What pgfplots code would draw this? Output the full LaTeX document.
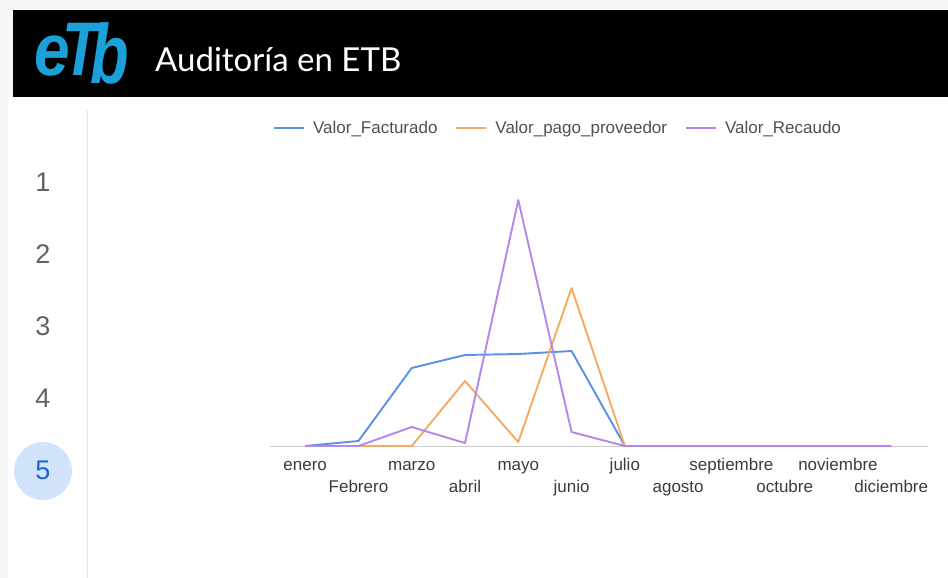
\documentclass[border=0pt]{standalone}
\usepackage{pgfplots}
\pgfplotsset{compat=1.18}
\usepackage{fontspec}
\setmainfont{Liberation Sans}
\newfontfamily\titlefont{Lato}
\definecolor{cBlue}{RGB}{88,145,230}
\definecolor{cOrange}{RGB}{245,170,100}
\definecolor{cPurple}{RGB}{180,135,235}
\definecolor{bgstrip}{RGB}{246,247,249}
\definecolor{sideline}{RGB}{226,228,230}
\definecolor{axisgrey}{RGB}{204,204,204}
\definecolor{labelgrey}{RGB}{60,60,60}
\definecolor{leggrey}{RGB}{80,80,80}
\definecolor{numgrey}{RGB}{95,99,104}
\definecolor{logoblue}{RGB}{27,160,218}
\definecolor{circblue}{RGB}{210,227,252}
\definecolor{numblue}{RGB}{25,103,210}
\begin{document}
\begin{tikzpicture}[x=1pt,y=1pt]
\useasboundingbox (0,0) rectangle (948,-578);
\fill[white] (0,0) rectangle (948,-578);
\fill[bgstrip] (0,0) rectangle (948,-10);
\fill[bgstrip] (0,0) rectangle (13,-97);
\fill[bgstrip] (0,-97) rectangle (8,-578);
\fill[black] (13,-10) rectangle (948,-97);
% logo
\node[anchor=base west, inner sep=0, text=logoblue] at (34,-76)
  {\scalebox{0.78}[0.9]{\fontsize{82}{82}\selectfont\bfseries\itshape e}};
\node[anchor=base west, inner sep=0, text=logoblue] at (62,-76)
  {\scalebox{0.8}[1]{\fontsize{76}{76}\selectfont\bfseries\itshape T}};
\node[anchor=base west, inner sep=0, text=logoblue] at (90,-84)
  {\scalebox{0.75}[1]{\fontsize{84}{84}\selectfont\bfseries\itshape b}};
% title
\node[anchor=base west, inner sep=0, text=white, font=\titlefont\fontsize{33}{33}\selectfont] at (155,-72) {Auditoría en ETB};
% sidebar
\draw[sideline, line width=1pt] (87,-110) -- (87,-578);
\fill[circblue] (43,-471) circle (29);
\foreach \n/\yy in {1/182,2/254,3/326,4/398}{
  \node[text=numgrey, inner sep=0, font=\fontsize{27}{27}\selectfont] at (43,-\yy) {\n};
}
\node[text=numblue, inner sep=0, font=\fontsize{27}{27}\selectfont] at (43,-470) {5};
\begin{axis}[
  at={(270pt,-446pt)}, anchor=south west,
  scale only axis, width=658pt, height=250pt,
  xmin=-0.66, xmax=11.69, ymin=0, ymax=250,
  axis x line=bottom, axis y line=none,
  x axis line style={draw=axisgrey, line width=1pt, -},
  major tick length=0pt,
  xtick={0,2,4,6,8,10},
  xticklabels={enero,marzo,mayo,julio,septiembre,noviembre},
  extra x ticks={1,3,5,7,9,11},
  extra x tick labels={Febrero,abril,junio,agosto,octubre,diciembre},
  xticklabel style={anchor=base, yshift=-24pt, text=labelgrey, font=\fontsize{17}{20}\selectfont, inner sep=0pt},
  extra x tick style={xticklabel style={yshift=-22.5pt}},
  clip=false,
  legend columns=3,
  legend image code/.code={\draw[#1] (0pt,0pt) -- (30pt,0pt);},
  legend style={at={(0.0,1.272)}, anchor=west, draw=none, fill=none,
    font=\fontsize{17}{20}\selectfont, text=leggrey,
    nodes={inner sep=0pt},
    /tikz/every odd column/.append style={column sep=8pt},
    /tikz/every even column/.append style={column sep=18pt}},
]
\addplot[cBlue, line width=1.9pt, line join=round] coordinates {
 (0,0) (1,5) (2,78) (3,91) (4,92) (5,95) (6,0) (7,0) (8,0) (9,0) (10,0) (11,0)};
\addlegendentry{Valor\_Facturado}
\addplot[cOrange, line width=1.9pt, line join=round] coordinates {
 (0,0) (1,0) (2,0) (3,65) (4,4) (5,158) (6,0) (7,0) (8,0) (9,0) (10,0) (11,0)};
\addlegendentry{Valor\_pago\_proveedor}
\addplot[cPurple, line width=1.9pt, line join=round] coordinates {
 (0,0) (1,0) (2,19) (3,3) (4,246) (5,14) (6,0) (7,0) (8,0) (9,0) (10,0) (11,0)};
\addlegendentry{Valor\_Recaudo}
\end{axis}
\end{tikzpicture}
\end{document}
